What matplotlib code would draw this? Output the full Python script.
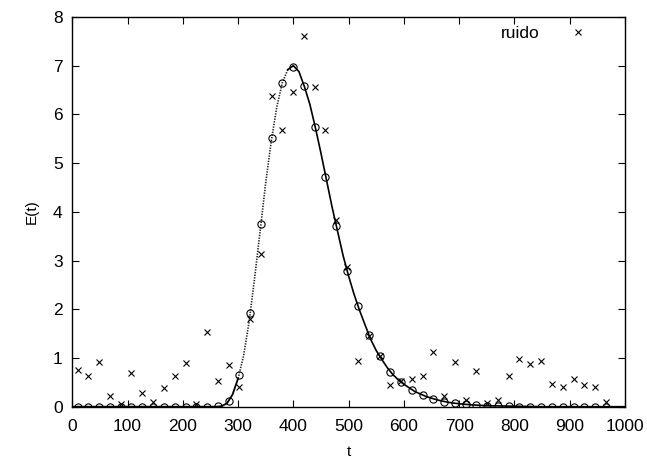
import numpy as np
import matplotlib
matplotlib.use('Agg')
import matplotlib.pyplot as plt

plt.rcParams['font.family'] = ['Liberation Sans', 'DejaVu Sans']

# sample times (circles and crosses share them)
t_pts = [10, 29, 49, 68, 88, 107, 127, 146, 166, 185, 205, 224, 244, 263, 283,
         302, 322, 341, 361, 380, 400, 419, 439, 458, 478, 497, 517, 536, 556, 575,
         595, 614, 634, 653, 673, 692, 712, 731, 751, 770, 790, 809, 829, 848, 868,
         887, 907, 926, 946, 965]
# model values (open circles)
e_model = [0, 0, 0, 0, 0, 0, 0, 0, 0, 0, 0, 0, 0, 0.01, 0.12,
           0.65, 1.92, 3.75, 5.51, 6.65, 6.98, 6.59, 5.75, 4.72, 3.71, 2.79, 2.07, 1.47, 1.04, 0.72,
           0.51, 0.34, 0.24, 0.16, 0.10, 0.07, 0.05, 0.03, 0.02, 0.015, 0.01, 0, 0, 0, 0,
           0, 0, 0, 0, 0]
# noisy values (crosses)
e_noise = [0.75, 0.62, 0.91, 0.21, 0.06, 0.69, 0.28, 0.10, 0.38, 0.64, 0.90, 0.06, 1.54, 0.53, 0.86,
           0.40, 1.80, 3.14, 6.37, 5.67, 6.46, 7.60, 6.57, 5.68, 3.84, 2.86, 0.93, 1.46, 1.05, 0.45,
           0.53, 0.57, 0.64, 1.12, 0.21, 0.91, 0.14, 0.73, 0.08, 0.14, 0.63, 0.97, 0.88, 0.94, 0.47,
           0.41, 0.57, 0.45, 0.41, 0.10]

# continuous curve
curve_t = [0, 100, 200, 260, 270, 280, 290, 300, 310, 320, 330, 340, 350, 360, 370, 380, 390,
           400, 410, 420, 430, 440, 450, 460, 470, 480, 490, 500, 510, 520, 530, 540, 550,
           560, 570, 580, 590, 600, 620, 640, 660, 680, 700, 720, 750, 800, 850, 1000]
curve_e = [0, 0, 0, 0, 0.01, 0.07, 0.25, 0.58, 1.05, 1.75, 2.65, 3.62, 4.6, 5.45, 6.15, 6.65, 6.92,
           7.0, 6.88, 6.57, 6.2, 5.72, 5.2, 4.65, 4.1, 3.6, 3.1, 2.68, 2.3, 1.97, 1.67, 1.38, 1.15,
           0.97, 0.8, 0.66, 0.55, 0.46, 0.31, 0.21, 0.14, 0.09, 0.06, 0.04, 0.02, 0.01, 0, 0]

ct = np.array(curve_t)
ce = np.array(curve_e)

fig = plt.figure(figsize=(6.47, 4.58), dpi=100)
ax = fig.add_axes([0.1117, 0.112, 0.8543, 0.851])

# steep rising part looks dotted, the rest solid
lo = ct <= 300
mid = (ct >= 300) & (ct <= 390)
hi = ct >= 390
ax.plot(ct[lo], ce[lo], color='black', lw=1.3)
ax.plot(ct[mid], ce[mid], color='#222222', lw=1.2, linestyle=(0, (0.8, 0.8)))
ax.plot(ct[hi], ce[hi], color='black', lw=1.2)

ax.plot(t_pts, e_model, linestyle='none', marker='o', ms=5.2, mfc='none',
        mec='black', mew=0.8)
ax.plot(t_pts, e_noise, linestyle='none', marker='x', ms=5, color='black',
        mew=0.8, label='ruido')

ax.set_xlim(0, 1000)
ax.set_ylim(0, 8)
ax.set_xticks(np.arange(0, 1001, 100))
ax.set_yticks(np.arange(0, 9, 1))
ax.tick_params(direction='in', length=5, width=0.8, top=True, right=True,
               labelsize=12.5, colors='black')
ax.tick_params(axis='x', pad=9)
ax.tick_params(axis='y', pad=7)
for s in ax.spines.values():
    s.set_linewidth(1.0)

ax.set_xlabel('t', fontsize=11, labelpad=8)
ax.set_ylabel('E(t)', fontsize=11, labelpad=10)

ax.legend(loc='upper right', bbox_to_anchor=(0.986, 1.0), frameon=False,
          markerfirst=False, fontsize=12.5, handlelength=3.55,
          borderaxespad=0.1, handletextpad=0.45)

fig.savefig('out.png', dpi=100)
